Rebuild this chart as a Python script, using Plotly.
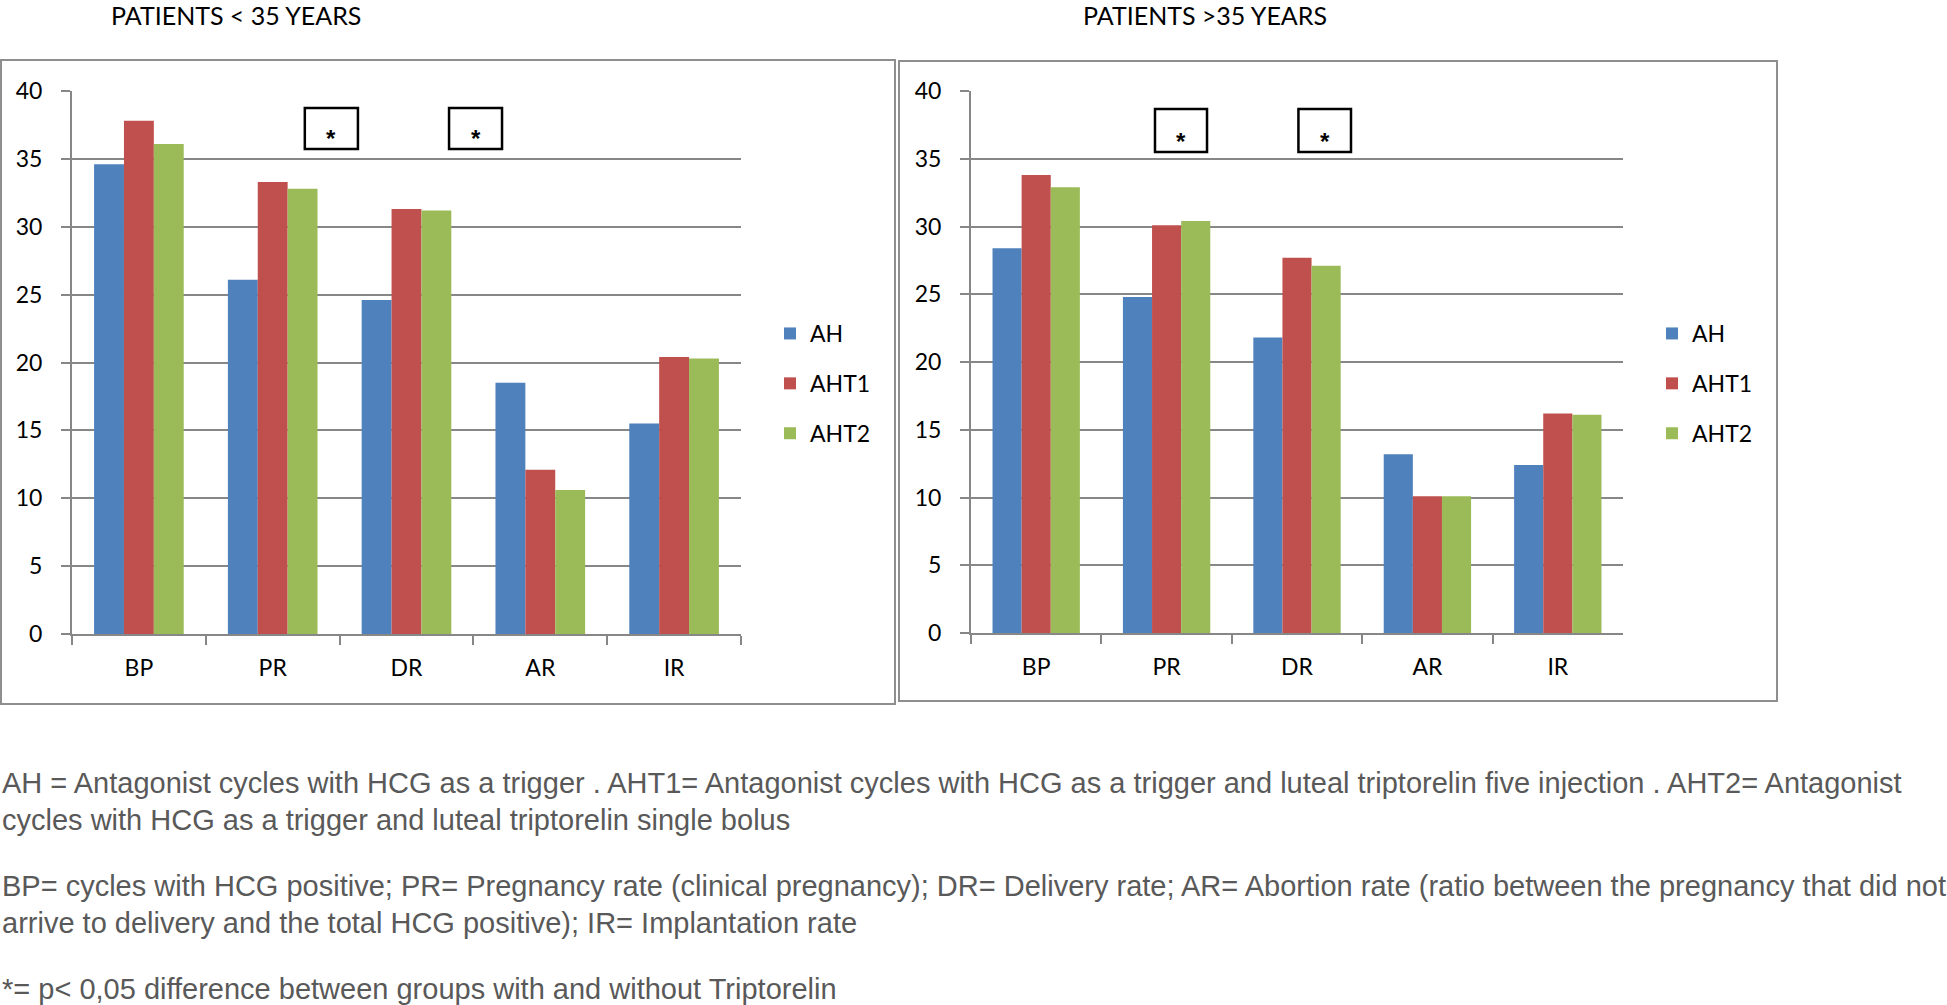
import plotly.graph_objects as go

W, H = 1947, 1005

categories = ["BP", "PR", "DR", "AR", "IR"]
series_names = ["AH", "AHT1", "AHT2"]
colors = ["#4F81BD", "#C0504D", "#9BBB59"]

# Patients < 35 years
young_AH = [34.6, 26.1, 24.6, 18.5, 15.5]
young_AHT1 = [37.8, 33.3, 31.3, 12.1, 20.4]
young_AHT2 = [36.1, 32.8, 31.2, 10.6, 20.3]

# Patients > 35 years
old_AH = [28.4, 24.8, 21.8, 13.2, 12.4]
old_AHT1 = [33.8, 30.1, 27.7, 10.1, 16.2]
old_AHT2 = [32.9, 30.4, 27.1, 10.1, 16.1]

y_ticks = [0, 5, 10, 15, 20, 25, 30, 35, 40]

title_left = "PATIENTS < 35 YEARS"
title_right = "PATIENTS >35 YEARS"

notes = [
    "AH = Antagonist cycles with HCG as a trigger . AHT1= Antagonist cycles with HCG as a trigger and luteal triptorelin five injection . AHT2= Antagonist",
    "cycles with HCG as a trigger and luteal triptorelin single bolus",
    "BP= cycles with HCG positive; PR= Pregnancy rate (clinical pregnancy); DR= Delivery rate; AR= Abortion rate (ratio between the pregnancy that did not",
    "arrive to delivery and the total HCG positive); IR= Implantation rate",
    "*= p< 0,05 difference between groups with and without Triptorelin",
]


def px(x):
    return x / W


def py(y):
    return 1 - y / H


CHART_FONT = "Lato"
GRID = "#878787"

fig = go.Figure()
young = [young_AH, young_AHT1, young_AHT2]
old = [old_AH, old_AHT1, old_AHT2]
for i, name in enumerate(series_names):
    fig.add_trace(go.Bar(x=categories, y=young[i], name=name, marker_color=colors[i],
                         marker_line_width=0, xaxis="x", yaxis="y",
                         legend="legend", legendgroup="g%d" % i))
for i, name in enumerate(series_names):
    fig.add_trace(go.Bar(x=categories, y=old[i], name=name, marker_color=colors[i],
                         marker_line_width=0, xaxis="x2", yaxis="y2",
                         legend="legend2", legendgroup="h%d" % i))

xcommon = dict(type="category", range=[-0.5, 4.5], showgrid=False, showline=True,
               linecolor=GRID, linewidth=2, ticks="outside", tickson="boundaries",
               ticklen=9, tickwidth=2, tickcolor=GRID, automargin=False,
               tickfont=dict(family=CHART_FONT, size=23, color="black"),
               ticklabelstandoff=12, fixedrange=True)
ycommon = dict(range=[0, 40], tickvals=y_ticks, showgrid=True, gridcolor=GRID, gridwidth=2,
               zeroline=False, showline=True, linecolor=GRID, linewidth=2,
               ticks="outside", ticklen=9, tickwidth=2, tickcolor=GRID, automargin=False,
               tickfont=dict(family=CHART_FONT, size=23, color="black"),
               ticklabelstandoff=14, fixedrange=True)

legend_common = dict(font=dict(family=CHART_FONT, size=23, color="black"),
                     bgcolor="rgba(0,0,0,0)", tracegroupgap=17, traceorder="grouped",
                     xanchor="left", yanchor="top", itemclick=False, itemdoubleclick=False)

fig.update_layout(
    width=W, height=H,
    margin=dict(l=0, r=0, t=0, b=0, pad=0, autoexpand=False),
    paper_bgcolor="white", plot_bgcolor="white",
    barmode="group", bargap=0.33, bargroupgap=0,
    xaxis=dict(domain=[px(72), px(741)], anchor="y", **xcommon),
    yaxis=dict(domain=[py(634), py(91)], anchor="x", **ycommon),
    xaxis2=dict(domain=[px(971), px(1623)], anchor="y2", **xcommon),
    yaxis2=dict(domain=[py(633), py(91)], anchor="x2", **ycommon),
    legend=dict(x=px(770), y=py(312), **legend_common),
    legend2=dict(x=px(1652), y=py(312), **legend_common),
    showlegend=True,
)

shapes = [
    # chart frames
    dict(type="rect", xref="paper", yref="paper", x0=px(1), x1=px(895), y0=py(704), y1=py(60),
         line=dict(color="#8E8E8E", width=2), layer="below"),
    dict(type="rect", xref="paper", yref="paper", x0=px(899), x1=px(1777), y0=py(701), y1=py(61),
         line=dict(color="#8E8E8E", width=2), layer="below"),
    # significance boxes
    dict(type="rect", xref="x", yref="y", x0=1.24, x1=1.637, y0=35.73, y1=38.75,
         line=dict(color="black", width=2.5), fillcolor="white"),
    dict(type="rect", xref="x", yref="y", x0=2.318, x1=2.714, y0=35.73, y1=38.75,
         line=dict(color="black", width=2.5), fillcolor="white"),
    dict(type="rect", xref="x2", yref="y2", x0=0.911, x1=1.31, y0=35.5, y1=38.67,
         line=dict(color="black", width=2.5), fillcolor="white"),
    dict(type="rect", xref="x2", yref="y2", x0=2.011, x1=2.414, y0=35.5, y1=38.67,
         line=dict(color="black", width=2.5), fillcolor="white"),
]
fig.update_layout(shapes=shapes)

ann = []
star_pos = [("x", "y", (1.24 + 1.637) / 2, 36.5), ("x", "y", (2.318 + 2.714) / 2, 36.5),
            ("x2", "y2", (0.911 + 1.31) / 2, 36.3), ("x2", "y2", (2.011 + 2.414) / 2, 36.3)]
for xr, yr, xv, yv in star_pos:
    ann.append(dict(xref=xr, yref=yr, x=xv, y=yv, text="<b>*</b>", showarrow=False,
                    font=dict(family="Liberation Sans", size=24, color="black")))

ann.append(dict(xref="paper", yref="paper", x=px(236), y=py(15), text=title_left, showarrow=False,
                xanchor="center", yanchor="middle",
                font=dict(family=CHART_FONT, size=25, color="black")))
ann.append(dict(xref="paper", yref="paper", x=px(1205), y=py(15), text=title_right, showarrow=False,
                xanchor="center", yanchor="middle",
                font=dict(family=CHART_FONT, size=25, color="black")))

note_y = [783, 820, 886, 923, 989]
for t, yv in zip(notes, note_y):
    ann.append(dict(xref="paper", yref="paper", x=px(0), y=py(yv), text=t, showarrow=False,
                    xanchor="left", yanchor="middle",
                    font=dict(family="Liberation Sans", size=29, color="#595959")))

fig.update_layout(annotations=ann)

fig.write_html("out.html", config={"displayModeBar": False},
               post_script="document.body.style.margin='0';")
